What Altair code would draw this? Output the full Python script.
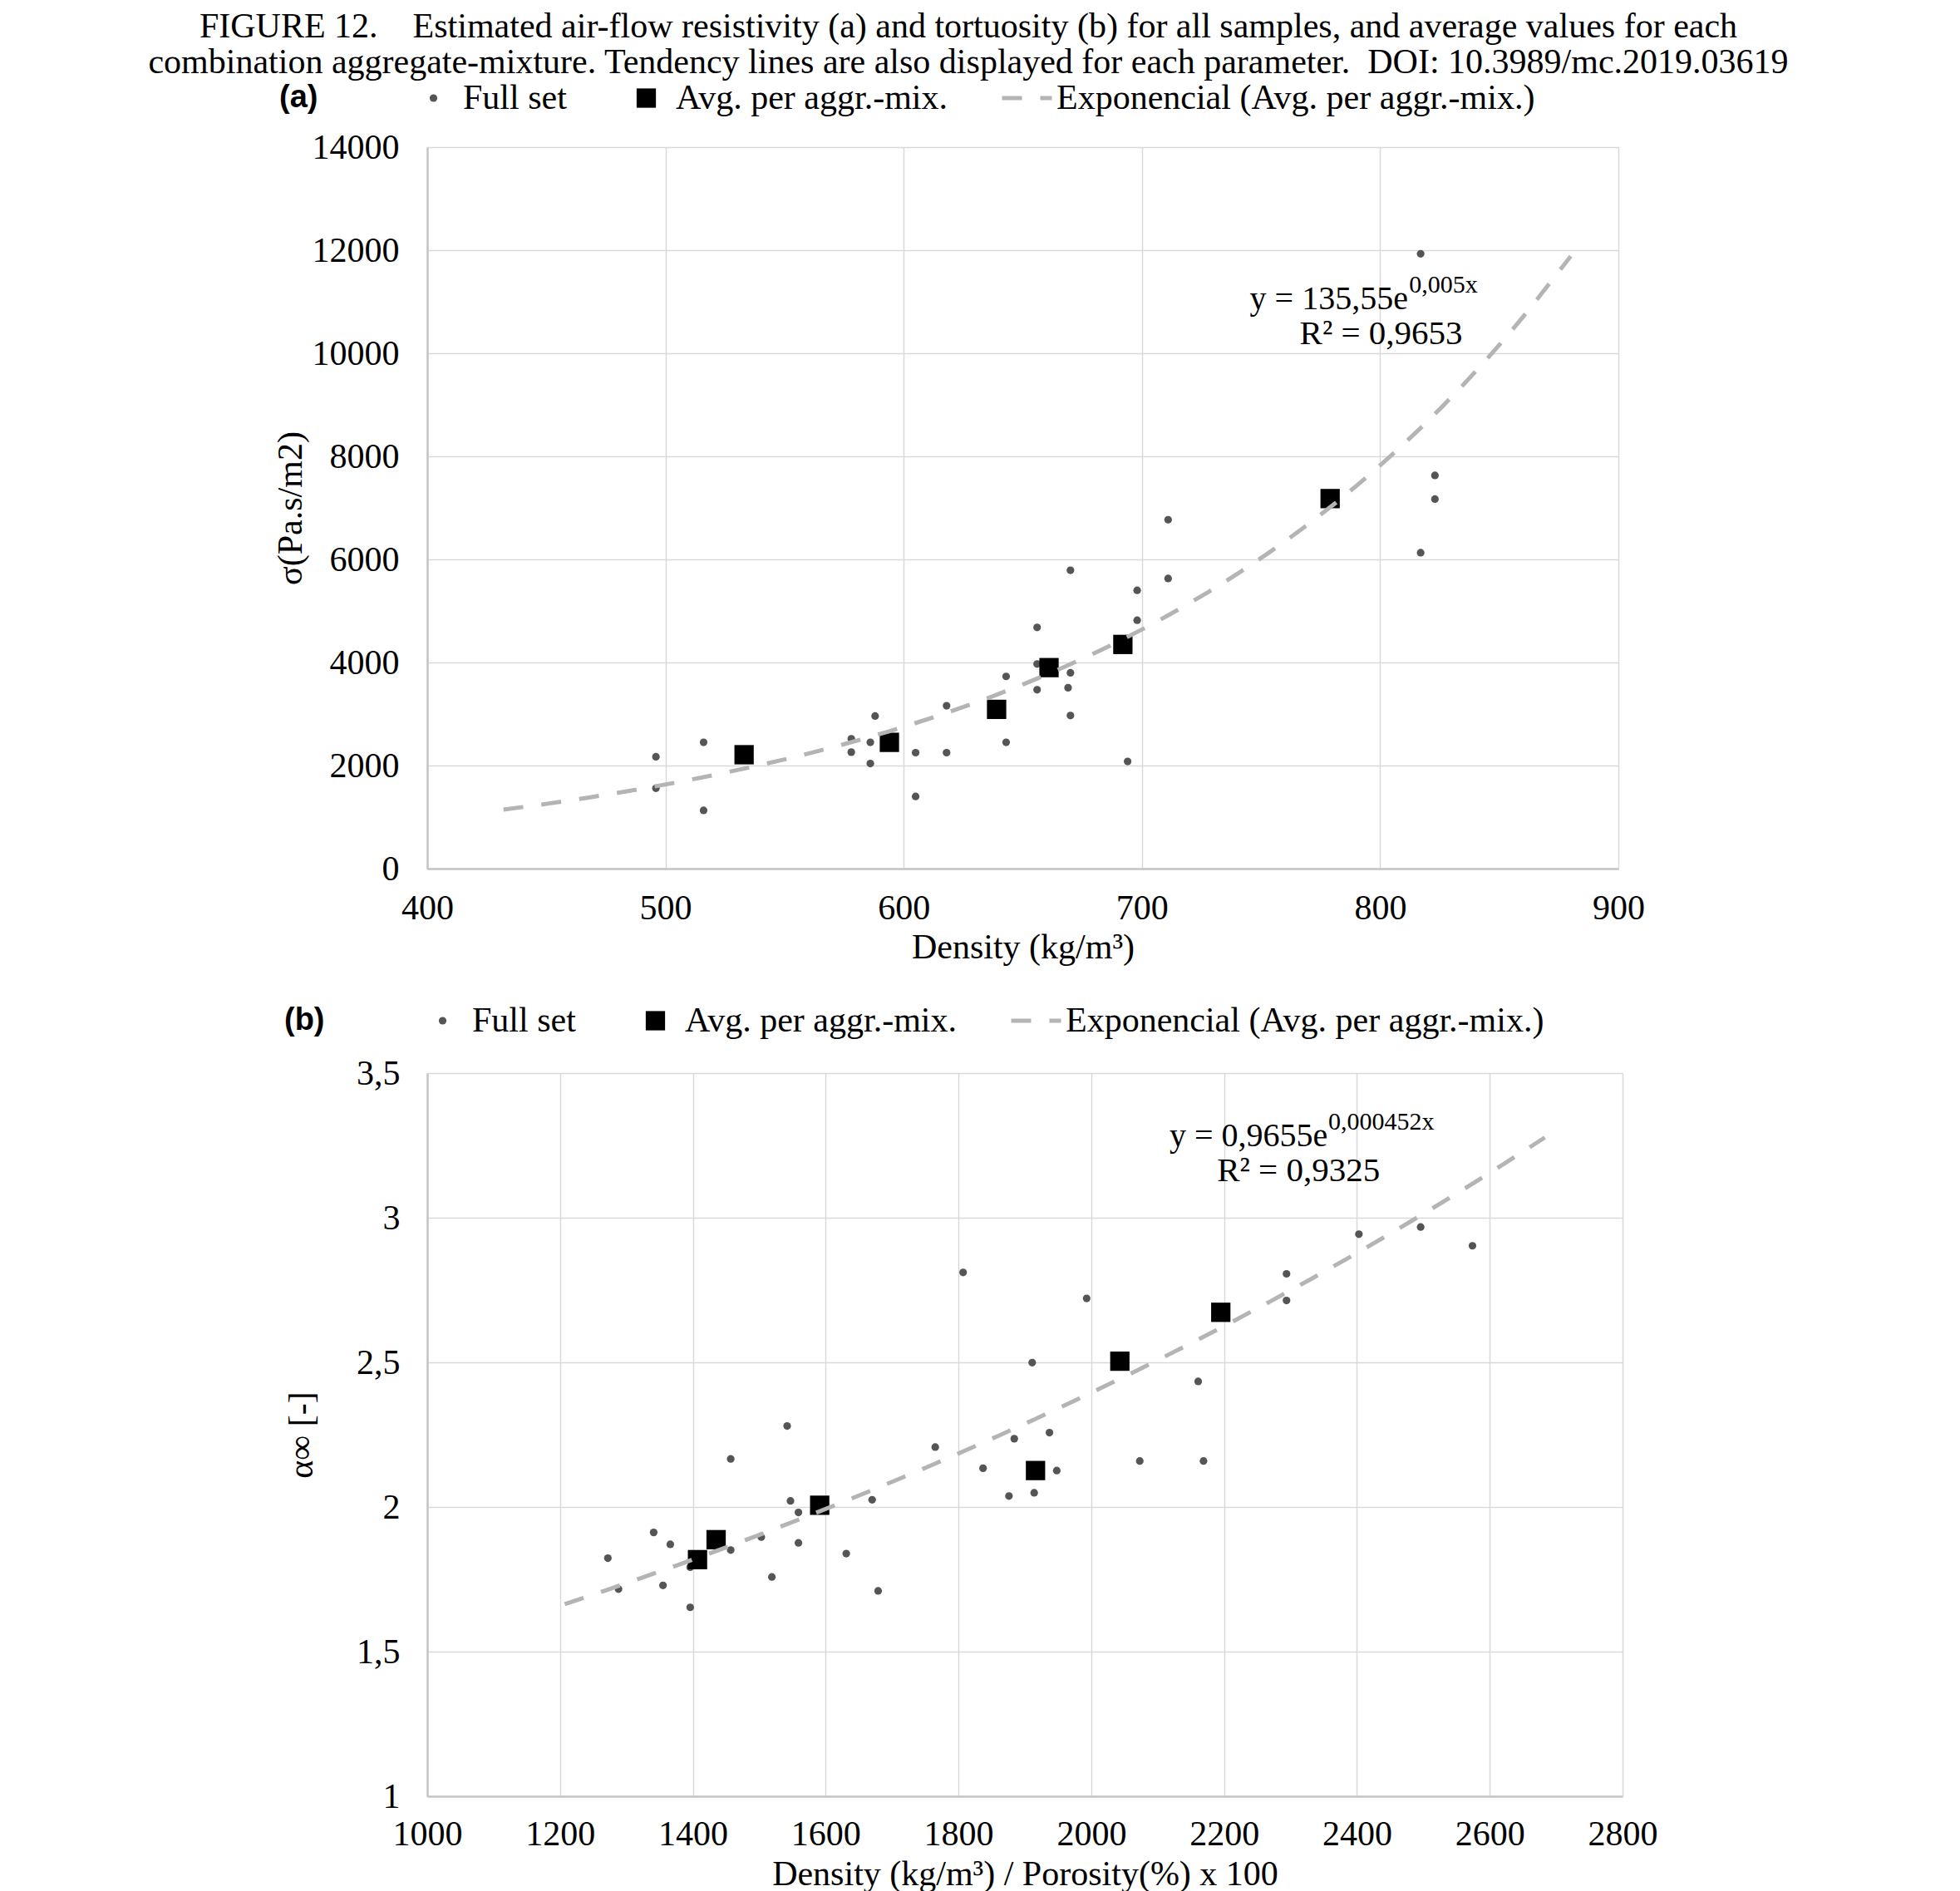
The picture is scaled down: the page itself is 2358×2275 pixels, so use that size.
import altair as alt
import pandas as pd

FONT = "Liberation Serif"
SERIES = ["Full set", "Avg. per aggr.-mix.", "Exponencial (Avg. per aggr.-mix.)"]

TITLE_LINES = [
    "FIGURE 12.\u00a0\u00a0\u00a0 Estimated air-flow resistivity (a) and tortuosity (b) for all samples, and average values for each",
    "combination aggregate-mixture. Tendency lines are also displayed for each parameter.\u00a0 DOI: 10.3989/mc.2019.03619",
]

# ---- panel (a): air-flow resistivity vs density
a_full_x = [496, 496, 516, 516, 578, 578, 586, 586, 588, 605, 605, 618, 618, 643, 643, 656, 656, 656,
            670, 670, 669, 670, 694, 698, 698, 711, 711, 817, 817, 823, 823]
a_full_y = [2170, 1560, 2450, 1130, 2520, 2260, 2450, 2040, 2960, 2250, 1400, 3160, 2250, 3730, 2450,
            4680, 3970, 3470, 5790, 3800, 3510, 2970, 2080, 5400, 4820, 6770, 5630, 11930, 6130, 7630, 7170]
a_avg_x = [533, 594, 639, 661, 692, 779]
a_avg_y = [2210, 2450, 3090, 3900, 4350, 7180]
a_x_ticks = [400, 500, 600, 700, 800, 900]
a_y_ticks = [0, 2000, 4000, 6000, 8000, 10000, 12000, 14000]
a_eq = ["y = 135,55e", "0,005x", "R\u00b2 = 0,9653"]

# ---- panel (b): tortuosity vs density/porosity
b_full_x = [1272, 1288, 1341, 1366, 1355, 1396, 1396, 1457, 1457, 1503, 1519, 1542, 1547, 1559, 1559,
            1631, 1670, 1679, 1765, 1807, 1837, 1876, 1884, 1911, 1914, 1937, 1948, 1993, 2073, 2161,
            2169, 2294, 2294, 2403, 2496, 2574]
b_full_y = [1.823, 1.716, 1.912, 1.871, 1.729, 1.653, 1.792, 2.166, 1.851, 1.896, 1.758, 2.280, 2.021,
            1.981, 1.876, 1.839, 2.025, 1.710, 2.207, 2.811, 2.134, 2.038, 2.236, 2.499, 2.049, 2.257,
            2.126, 2.721, 2.159, 2.434, 2.159, 2.806, 2.714, 2.943, 2.968, 2.903]
b_avg_x = [1407, 1435, 1591, 1916, 2043, 2195]
b_avg_y = [1.818, 1.887, 2.006, 2.126, 2.504, 2.673]
b_x_ticks = [1000, 1200, 1400, 1600, 1800, 2000, 2200, 2400, 2600, 2800]
b_y_ticks = [1, 1.5, 2, 2.5, 3, 3.5]
b_eq = ["y = 0,9655e", "0,000452x", "R\u00b2 = 0,9325"]

fill_scale = alt.Scale(type="ordinal", domain=SERIES, range=["#555555", "#000000", "transparent"])
stroke_scale = alt.Scale(type="ordinal", domain=SERIES, range=["transparent", "transparent", "#b4b4b4"])
shape_scale = alt.Scale(type="ordinal", domain=SERIES, range=["circle", "square", "stroke"])
size_scale = alt.Scale(type="ordinal", domain=SERIES, range=[85, 540, 3600])
dash_scale = alt.Scale(type="ordinal", domain=SERIES, range=[[1, 0], [1, 0], [24, 22]])


def make_panel(tag, full_x, full_y, avg_x, avg_y, x_dom, x_ticks, y_dom, y_ticks, x_title, y_title,
               y_label_expr, fit_extent, eq, eq_x, eq_sup_x, eq_r2_x, eq_y, eq_sup_y, eq_r2_y,
               width, height, legend_x, legend_y, legend_tpad, ytitle_x, ylabel_pad, xlabel_pad, xtitle_y):
    pts = pd.DataFrame({
        "x": full_x + avg_x,
        "y": full_y + avg_y,
        "series": [SERIES[0]] * len(full_x) + [SERIES[1]] * len(avg_x),
    })
    avg = pd.DataFrame({"x": avg_x, "y": avg_y})

    leg = alt.Legend(
        title=tag, orient="none", legendX=legend_x, legendY=legend_y, direction="horizontal",
        columns=3, clipHeight=60,
        titleOrient="left", titleFont="Liberation Sans", titleFontWeight="bold", titleFontSize=38,
        titleColor="black", titlePadding=legend_tpad, titleBaseline="middle", titleAnchor="middle",
        labelFont=FONT, labelFontSize=42, labelColor="black", labelOffset=3, labelLimit=2000,
        columnPadding=63, symbolStrokeWidth=5, padding=0, symbolOpacity=1,
    )

    xenc = alt.X("x:Q", scale=alt.Scale(domain=x_dom, nice=False, zero=False),
                 axis=alt.Axis(values=x_ticks, title=x_title, format="d", labelPadding=xlabel_pad,
                               labelBaseline="middle", titleY=xtitle_y, titleBaseline="middle",
                               labelFlush=False, labelOverlap=False))
    yenc = alt.Y("y:Q", scale=alt.Scale(domain=y_dom, nice=False, zero=False),
                 axis=alt.Axis(values=y_ticks, title=y_title, labelExpr=y_label_expr,
                               labelPadding=ylabel_pad, titleX=ytitle_x, titleY=height / 2,
                               titleBaseline="middle", labelFlush=False, labelOverlap=False))

    points = alt.Chart(pts).mark_point(filled=True, opacity=1).encode(
        x=xenc, y=yenc,
        fill=alt.Fill("series:N", scale=fill_scale, legend=leg),
        stroke=alt.Stroke("series:N", scale=stroke_scale, legend=leg),
        shape=alt.Shape("series:N", scale=shape_scale, legend=leg),
        size=alt.Size("series:N", scale=size_scale, legend=leg),
    )

    line = alt.Chart(avg).transform_regression(
        "x", "y", method="exp", extent=fit_extent
    ).transform_calculate(series=f"'{SERIES[2]}'").mark_line(strokeWidth=5).encode(
        x=xenc, y=yenc,
        stroke=alt.Stroke("series:N", scale=stroke_scale, legend=leg),
        strokeDash=alt.StrokeDash("series:N", scale=dash_scale, legend=leg),
    )

    t_main = alt.Chart(pd.DataFrame({"x": [eq_x], "y": [eq_y], "t": [eq[0]]})).mark_text(
        font=FONT, fontSize=40, align="right", baseline="alphabetic", color="black"
    ).encode(x=xenc, y=yenc, text="t:N")
    t_sup = alt.Chart(pd.DataFrame({"x": [eq_sup_x], "y": [eq_sup_y], "t": [eq[1]]})).mark_text(
        font=FONT, fontSize=30, align="left", baseline="alphabetic", color="black"
    ).encode(x=xenc, y=yenc, text="t:N")
    t_r2 = alt.Chart(pd.DataFrame({"x": [eq_r2_x], "y": [eq_r2_y], "t": [eq[2]]})).mark_text(
        font=FONT, fontSize=41, align="center", baseline="alphabetic", color="black"
    ).encode(x=xenc, y=yenc, text="t:N")

    return alt.layer(points, line, t_main, t_sup, t_r2).properties(width=width, height=height)


panel_a = make_panel(
    "(a)", a_full_x, a_full_y, a_avg_x, a_avg_y, [400, 900], a_x_ticks, [0, 14000], a_y_ticks,
    "Density (kg/m\u00b3)", "\u03c3(Pa.s/m2)", "format(datum.value, 'd')", [432, 880], a_eq,
    811.7, 812.2, 800.4, 10850, 11173, 10173,
    1433, 868, -178, -89, 106, -165, 34, 47, 94,
)

panel_b = make_panel(
    "(b)", b_full_x, b_full_y, b_avg_x, b_avg_y, [1000, 2800], b_x_ticks, [1, 3.5], b_y_ticks,
    "Density (kg/m\u00b3) / Porosity(%) x 100", "\u03b1\u221e [-]",
    "replace(format(datum.value, '.1~f'), '.', ',')", [1207, 2683], b_eq,
    2356, 2357, 2312, 3.248, 3.305, 3.127,
    1438, 870, -172, -93, 109, -152, 33, 45, 93,
)

chart = alt.vconcat(panel_a, panel_b, spacing=38).resolve_scale(
    fill="independent", stroke="independent", shape="independent", size="independent",
    strokeDash="independent",
).properties(
    title=alt.TitleParams(TITLE_LINES, font=FONT, fontSize=42, fontWeight="normal", lineHeight=43,
                          anchor="middle", color="black", offset=-9, dx=4),
    padding={"left": 170, "top": 3, "right": 10, "bottom": 0},
).configure_view(stroke=None).configure_axis(
    labelFont=FONT, labelFontSize=42, labelColor="black", titleFont=FONT, titleFontSize=42,
    titleColor="black", titleFontWeight="normal", grid=True, gridColor="#d9d9d9", gridWidth=1.5,
    domainColor="#c4c4c4", domainWidth=2.5, ticks=False, tickSize=0,
)

chart.save("out.html", embed_options={"renderer": "svg", "actions": False})
